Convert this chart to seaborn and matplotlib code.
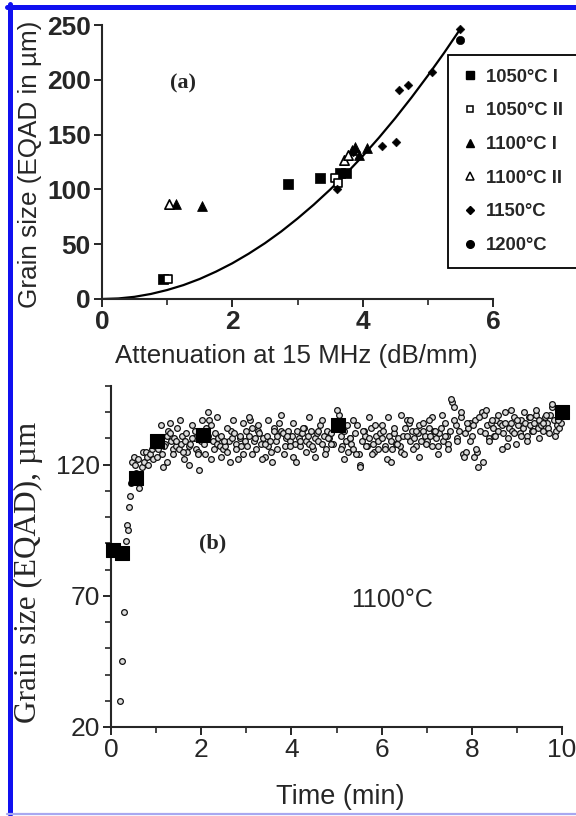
import numpy as np
import pandas as pd
import matplotlib
matplotlib.use("Agg")
import matplotlib.pyplot as plt
import seaborn as sns
from matplotlib.lines import Line2D
from matplotlib.ticker import MultipleLocator

sns.set_style("ticks")
plt.rcParams["font.family"] = ["Liberation Sans", "DejaVu Sans"]

# ---------------- data, panel (a) ----------------
sq_fill_x = [0.94, 2.86, 3.35, 3.65, 3.75]
sq_fill_y = [18, 105, 110, 115, 115]
sq_open_x = [1.02, 3.58, 3.62]
sq_open_y = [18, 110, 106]
tri_fill_x = [1.14, 1.54, 3.83, 3.88, 3.95, 4.06]
tri_fill_y = [87, 85, 136, 139, 131, 138]
tri_open_x = [1.03, 3.72, 3.78]
tri_open_y = [87, 127, 131]
dia_x = [3.60, 3.85, 4.29, 4.51, 4.55, 4.69, 5.06, 5.49]
dia_y = [100, 134, 140, 143, 191, 195, 207, 246]
circ_x = [5.49]
circ_y = [236]
fit_x = [0, 0.25, 0.5, 0.75, 1, 1.25, 1.5, 1.75, 2, 2.25, 2.5, 2.75, 3, 3.25,
         3.5, 3.75, 4, 4.25, 4.5, 4.75, 5, 5.25, 5.5]
fit_y = [0, 0.5, 2.0, 4.6, 8.2, 12.7, 18.3, 25.0, 32.6, 41.3, 50.9, 61.6, 73.4,
         86.1, 99.8, 114.6, 130.4, 147.2, 165.0, 183.9, 203.8, 224.6, 246.5]
legend_labels = ["1050°C I", "1050°C II", "1100°C I", "1100°C II", "1150°C", "1200°C"]

# ---------------- data, panel (b) ----------------
big_t = [0.05, 0.24, 0.55, 1.02, 2.04, 5.03, 10.0]
big_g = [87.5, 86.5, 115, 129, 131.5, 135, 140]

small_t = [0.20, 0.24, 0.29, 0.33, 0.35, 0.37, 0.41, 0.43, 0.45, 0.47, 0.50,
           0.53, 0.56, 0.60, 0.62, 0.65, 0.68, 0.71, 0.74, 0.77, 0.80, 0.83, 0.86, 0.90, 0.94, 0.97,
           1.05, 1.08, 1.12, 1.16, 1.20, 1.24, 1.27, 1.30, 1.33, 1.37, 1.40, 1.44, 1.47, 1.51,
           1.55, 1.58, 1.62, 1.65, 1.69, 1.72, 1.76, 1.80, 1.84, 1.88, 1.92, 1.96, 1.99,
           2.06, 2.10, 2.14, 2.18, 2.22, 2.26, 2.30, 2.34, 2.37, 2.41, 2.45, 2.49, 2.53, 2.57,
           2.61, 2.65, 2.69, 2.73, 2.77, 2.81, 2.85, 2.89, 2.93, 2.97,
           3.01, 3.05, 3.09, 3.13, 3.17, 3.21, 3.25, 3.29, 3.33, 3.37, 3.41, 3.45, 3.49, 3.53,
           3.57, 3.61, 3.65, 3.69, 3.73, 3.77, 3.81, 3.85, 3.89, 3.93, 3.97,
           4.01, 4.04, 4.08, 4.12, 4.16, 4.20, 4.24, 4.28, 4.32, 4.36, 4.40, 4.44, 4.48, 4.52,
           4.56, 4.60, 4.64, 4.68, 4.72, 4.76, 4.80, 4.84, 4.88, 4.92, 4.96,
           5.05, 5.09, 5.13, 5.17, 5.21, 5.25, 5.29, 5.33, 5.37, 5.41, 5.45, 5.49, 5.52, 5.56,
           5.60, 5.64, 5.68, 5.72, 5.76, 5.80, 5.84, 5.88, 5.92, 5.96,
           6.00, 6.04, 6.08, 6.12, 6.16, 6.20, 6.24, 6.28, 6.32, 6.36, 6.40, 6.44, 6.48, 6.52,
           6.56, 6.60, 6.64, 6.68, 6.72, 6.76, 6.80, 6.84, 6.88, 6.92, 6.96,
           7.00, 7.04, 7.08, 7.12, 7.16, 7.20, 7.24, 7.28, 7.32, 7.36, 7.40, 7.44, 7.48, 7.52,
           7.56, 7.60, 7.64, 7.68, 7.72, 7.76, 7.80, 7.84, 7.88, 7.92, 7.96,
           8.00, 8.04, 8.08, 8.12, 8.14, 8.18, 8.22, 8.26, 8.30, 8.34, 8.38, 8.42, 8.46, 8.50,
           8.54, 8.58, 8.62, 8.66, 8.70, 8.74, 8.78, 8.82, 8.86, 8.90, 8.94, 8.98,
           9.02, 9.06, 9.10, 9.14, 9.18, 9.22, 9.26, 9.30, 9.34, 9.38, 9.42, 9.46, 9.50, 9.54,
           9.58, 9.62, 9.66, 9.70, 9.74, 9.78, 9.82, 9.86, 9.90, 9.94, 9.98]
small_g = [30, 45, 64, 91, 97, 95, 104, 108, 113, 121, 123,
           120, 117, 122, 111, 114, 119, 125, 121, 125, 123, 120, 124, 126, 122, 127,
           126, 130, 124, 119, 128, 131, 133, 132, 129, 126, 130, 127, 134, 126,
           128, 131, 122, 129, 125, 127, 128, 135, 130, 126, 125, 118, 129,
           128, 134, 140, 137, 122, 129, 132, 128, 130, 127, 131, 126, 127, 125,
           129, 133, 130, 132, 128, 122, 130, 127, 136, 129,
           127, 131, 137, 134, 129, 126, 133, 132, 128, 130, 123, 131, 127, 129,
           121, 134, 129, 131, 136, 133, 132, 127, 130, 133, 129,
           131, 123, 128, 133, 130, 127, 132, 134, 129, 131, 128, 133, 126, 130,
           132, 129, 135, 128, 131, 126, 133, 130, 132, 128, 134,
           139, 131, 127, 133, 129, 125, 130, 128, 126, 132, 135, 124, 120, 129,
           133, 131, 127, 130, 134, 128, 125, 131, 129, 132,
           130, 133, 127, 122, 131, 129, 126, 132, 128, 130, 127, 125, 131, 134,
           137, 136, 129, 133, 130, 127, 132, 135, 129, 133, 131,
           129, 134, 131, 138, 133, 130, 127, 132, 134, 129, 136, 131, 128, 133,
           144, 142, 135, 130, 133, 138, 124, 132, 125, 134, 136,
           131, 123, 137, 125, 119, 133, 140, 139, 132, 135, 130, 136, 134, 131,
           137, 133, 136, 135, 132, 140, 127, 134, 136, 133, 138, 128,
           135, 132, 137, 134, 136, 131, 138, 135, 133, 136, 139, 134, 137, 135,
           133, 138, 136, 134, 139, 142, 137, 133, 135, 134, 136]

small_t2 = [1.02, 1.10, 1.17, 1.24, 1.31, 1.38, 1.45, 1.52, 1.59, 1.66, 1.73, 1.80, 1.87, 1.94,
            2.01, 2.08, 2.15, 2.22, 2.29, 2.36, 2.43, 2.50, 2.57, 2.64, 2.71, 2.78, 2.85, 2.92, 2.99,
            3.06, 3.13, 3.20, 3.27, 3.34, 3.41, 3.48, 3.55, 3.62, 3.69, 3.76, 3.83, 3.90, 3.97,
            4.04, 4.11, 4.18, 4.25, 4.32, 4.39, 4.46, 4.53, 4.60, 4.67, 4.74, 4.81, 4.88, 4.95,
            5.02, 5.09, 5.16, 5.23, 5.30, 5.37, 5.44, 5.51, 5.58, 5.65, 5.72, 5.79, 5.86, 5.93,
            6.00, 6.07, 6.14, 6.21, 6.28, 6.35, 6.42, 6.49, 6.56, 6.63, 6.70, 6.77, 6.84, 6.91, 6.98,
            7.05, 7.12, 7.19, 7.26, 7.33, 7.40, 7.47, 7.54, 7.61, 7.68, 7.75, 7.82, 7.89, 7.96,
            8.03, 8.10, 8.17, 8.24, 8.31, 8.38, 8.45, 8.52, 8.59, 8.66, 8.73, 8.80, 8.87, 8.94,
            9.01, 9.08, 9.15, 9.22, 9.29, 9.36, 9.43, 9.50, 9.57, 9.64, 9.71, 9.78, 9.85, 9.92]
small_g2 = [123, 135, 127, 121, 136, 124, 129, 137, 125, 132, 120, 130, 133, 124,
            137, 124, 131, 135, 126, 138, 123, 129, 134, 121, 137, 126, 131, 124, 133,
            138, 124, 130, 135, 122, 128, 137, 125, 133, 126, 139, 124, 131, 127,
            136, 121, 129, 134, 125, 138, 127, 123, 133, 137, 124, 130, 128, 135,
            141, 126, 122, 135, 130, 137, 124, 119, 133, 127, 138, 124, 135, 126,
            135, 126, 138, 121, 134, 128, 139, 124, 131, 137, 126, 133, 123, 136, 128,
            137, 127, 133, 124, 139, 131, 126, 145, 137, 129, 140, 123, 136, 129,
            135, 126, 138, 121, 141, 129, 137, 131, 139, 126, 136, 130, 141, 132,
            137, 131, 140, 129, 138, 133, 141, 130, 136, 139, 132, 143, 131, 137]

# ---------------- figure ----------------
W, H = 576, 816
fig = plt.figure(figsize=(W / 100, H / 100), dpi=100)
fig.patch.set_facecolor("white")

def fx(px):
    return px / W

def fy(py):
    return 1 - py / H

ax1 = fig.add_axes([fx(102), fy(299), (493 - 102) / W, (299 - 25) / H])
ax2 = fig.add_axes([fx(111), fy(727), (562 - 111) / W, (727 - 386) / H])

# ---- panel (a)
sns.lineplot(x=fit_x, y=fit_y, ax=ax1, color="black", lw=1.6, estimator=None, sort=False)
sns.scatterplot(x=sq_fill_x, y=sq_fill_y, ax=ax1, marker="s", s=42, color="black",
                edgecolor="black", zorder=3)
sns.scatterplot(x=sq_open_x, y=sq_open_y, ax=ax1, marker="s", s=36, color="white",
                edgecolor="black", linewidth=1.2, zorder=3)
sns.scatterplot(x=tri_fill_x, y=tri_fill_y, ax=ax1, marker="^", s=50, color="black",
                edgecolor="black", zorder=3)
sns.scatterplot(x=tri_open_x, y=tri_open_y, ax=ax1, marker="^", s=45, color="white",
                edgecolor="black", linewidth=1.2, zorder=3)
sns.scatterplot(x=dia_x, y=dia_y, ax=ax1, marker="D", s=20, color="black",
                edgecolor="black", zorder=3)
sns.scatterplot(x=circ_x, y=circ_y, ax=ax1, marker="o", s=36, color="black",
                edgecolor="black", zorder=3)

ax1.set_xlim(0, 6)
ax1.set_ylim(0, 250)
ax1.xaxis.set_major_locator(MultipleLocator(2))
ax1.xaxis.set_minor_locator(MultipleLocator(1))
ax1.yaxis.set_major_locator(MultipleLocator(50))
sns.despine(ax=ax1)
for sp in ("left", "bottom"):
    ax1.spines[sp].set_linewidth(1.5)
ax1.tick_params(which="major", direction="out", length=6, width=1.4, labelsize=19, pad=2)
ax1.tick_params(which="minor", direction="out", length=4, width=1.2)
for lab in ax1.get_xticklabels() + ax1.get_yticklabels():
    lab.set_fontweight("bold")
ax1.set_xlabel("Attenuation at 15 MHz (dB/mm)", fontsize=18.6, va="center")
ax1.xaxis.set_label_coords(0.497, -0.208)
ax1.set_ylabel("Grain size (EQAD in µm)", fontsize=18.8, va="center")
ax1.yaxis.set_label_coords(-0.184, 0.49)

handles = [
    Line2D([], [], ls="none", marker="s", ms=5.5, mfc="black", mec="black"),
    Line2D([], [], ls="none", marker="s", ms=5, mfc="white", mec="black", mew=1.1),
    Line2D([], [], ls="none", marker="^", ms=6, mfc="black", mec="black"),
    Line2D([], [], ls="none", marker="^", ms=6, mfc="white", mec="black", mew=1.1),
    Line2D([], [], ls="none", marker="D", ms=4, mfc="black", mec="black"),
    Line2D([], [], ls="none", marker="o", ms=5.5, mfc="black", mec="black"),
]
leg = ax1.legend(handles, legend_labels, loc="upper left",
                 bbox_to_anchor=(fx(448), fy(55)), bbox_transform=fig.transFigure,
                 borderaxespad=0, frameon=True, fancybox=False, framealpha=1,
                 edgecolor="black", prop={"size": 13.3, "weight": "bold"},
                 handlelength=0.9, handletextpad=0.4, labelspacing=0.9,
                 borderpad=0.75)
leg.get_frame().set_linewidth(1.3)

fig.text(fx(183), fy(83), "(a)", ha="center", va="center", fontsize=16,
         fontweight="bold", family=["Liberation Serif", "DejaVu Serif"])

# ---- panel (b)
sns.scatterplot(x=small_t, y=small_g, ax=ax2, marker="o", s=17, color="#dcdcdc",
                edgecolor="#111111", linewidth=0.9, zorder=2, clip_on=False)
sns.scatterplot(x=small_t2, y=small_g2, ax=ax2, marker="o", s=17, color="#dcdcdc",
                edgecolor="#111111", linewidth=0.9, zorder=2, clip_on=False)
sns.scatterplot(x=big_t, y=big_g, ax=ax2, marker="s", s=95, color="black",
                edgecolor="black", zorder=4, clip_on=False)

ax2.set_xlim(0, 10)
ax2.set_ylim(20, 150)
ax2.xaxis.set_major_locator(MultipleLocator(2))
ax2.xaxis.set_minor_locator(MultipleLocator(1))
ax2.set_yticks([20, 70, 120])
ax2.yaxis.set_minor_locator(MultipleLocator(10))
sns.despine(ax=ax2)
for sp in ("left", "bottom"):
    ax2.spines[sp].set_linewidth(1.5)
ax2.tick_params(which="major", direction="out", length=6, width=1.4, labelsize=19, pad=2)
ax2.tick_params(which="minor", direction="out", length=4, width=1.2)
ax2.set_xlabel("Time (min)", fontsize=19.5, va="center")
ax2.xaxis.set_label_coords(0.508, -0.205)
ax2.set_ylabel("Grain size (EQAD), µm", fontsize=22.5, va="center",
               family=["Liberation Serif", "DejaVu Serif"])
ax2.yaxis.set_label_coords(-0.184, 0.452)

fig.text(fx(213), fy(543), "(b)", ha="center", va="center", fontsize=16,
         fontweight="bold", family=["Liberation Serif", "DejaVu Serif"])
fig.text(fx(392), fy(600), "1100°C", ha="center", va="center", fontsize=18)

# ---- blue frame
fig.add_artist(Line2D([fx(9.5), fx(9.5)], [fy(4), fy(814)], transform=fig.transFigure,
                      color="#1010f0", lw=3.6))
fig.add_artist(Line2D([fx(7), fx(576)], [fy(6.5), fy(6.5)], transform=fig.transFigure,
                      color="#1010f0", lw=3.6))
fig.add_artist(Line2D([fx(7), fx(576)], [fy(813.5), fy(813.5)], transform=fig.transFigure,
                      color="#a8a8f0", lw=1.6))

fig.savefig("out.png", dpi=100)
